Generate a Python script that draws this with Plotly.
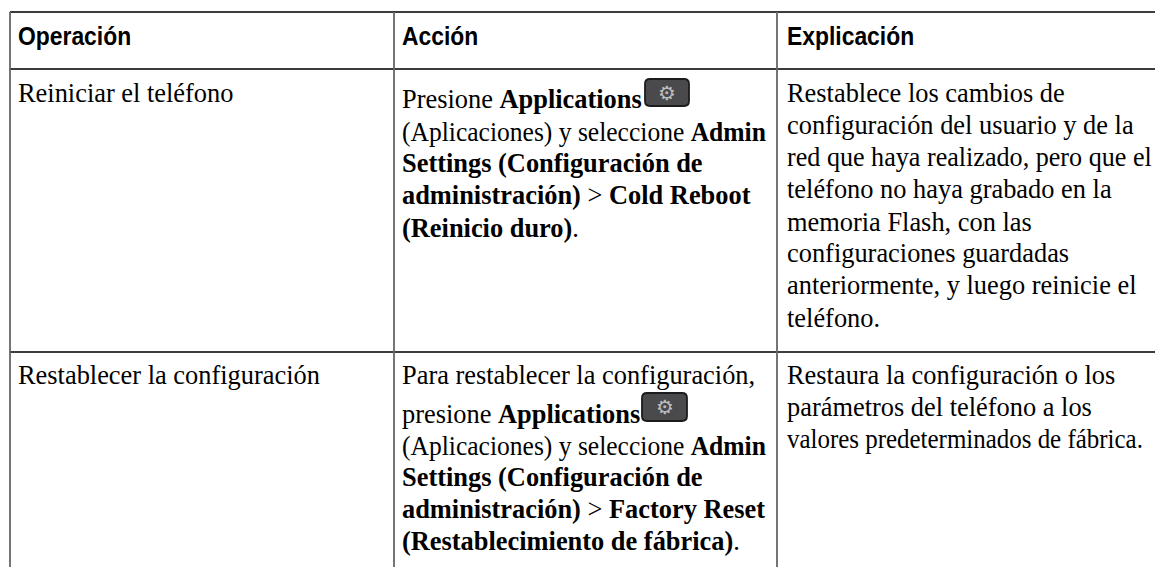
import json
import plotly.graph_objects as go

headers = ["Operación", "Acción", "Explicación"]
row1_op = ["Reiniciar el teléfono"]
row1_action = ["Presione <b>Applications</b>",
               "(Aplicaciones) y seleccione <b>Admin</b>",
               "<b>Settings (Configuración de</b>",
               "<b>administración)</b> > <b>Cold Reboot</b>",
               "<b>(Reinicio duro)</b>."]
row1_expl = ["Restablece los cambios de",
             "configuración del usuario y de la",
             "red que haya realizado, pero que el",
             "teléfono no haya grabado en la",
             "memoria Flash, con las",
             "configuraciones guardadas",
             "anteriormente, y luego reinicie el",
             "teléfono."]
row2_op = ["Restablecer la configuración"]
row2_action = ["Para restablecer la configuración,",
               "presione <b>Applications</b>",
               "(Aplicaciones) y seleccione <b>Admin</b>",
               "<b>Settings (Configuración de</b>",
               "<b>administración)</b> > <b>Factory Reset</b>",
               "<b>(Restablecimiento de fábrica)</b>."]
row2_expl = ["Restaura la configuración o los",
             "parámetros del teléfono a los",
             "valores predeterminados de fábrica."]

col_x = [18, 402, 787]
rule_v = [10, 394, 777]
rule_h = [12, 69, 352]
SERIF = "Liberation Serif"
SANS = "Liberation Sans"
BODY = 26.4

fig = go.Figure()
anns = []
def block(lines, x, ys):
    for t, y in zip(lines, ys):
        anns.append(dict(x=x, y=y, text=t, showarrow=False, xanchor="left", yanchor="middle", borderpad=0, borderwidth=0,
                         font=dict(family=SERIF, size=BODY, color="#000"), align="left"))

for h, x in zip(headers, col_x):
    anns.append(dict(x=x, y=35.5, text=f"<b>{h}</b>", showarrow=False, xanchor="left", yanchor="middle", borderpad=0, borderwidth=0,
                     font=dict(family=SANS, size=26, color="#000")))
block(row1_op, col_x[0], [93])
block(row1_action, col_x[1], [99, 131.5, 163, 195, 227.5])
block(row1_expl, col_x[2], [93, 125, 157, 188.5, 221.5, 253, 285, 317.5])
block(row2_op, col_x[0], [375])
block(row2_action, col_x[1], [375, 414, 446, 477, 509, 541])
block(row2_expl, col_x[2], [374.5, 407, 438.5])

shapes = []
for y in rule_h:
    shapes.append(dict(type="line", x0=10, x1=1155, y0=y, y1=y, line=dict(color="#3c3c3c", width=1.8)))
for x in rule_v:
    shapes.append(dict(type="line", x0=x, x1=x, y0=12, y1=567, line=dict(color="#666", width=1.8)))
for x0, x1, y0, y1 in [(645, 689, 79, 106), (642, 687, 393, 421)]:
    r = 5
    path = (f"M{x0+r},{y0} L{x1-r},{y0} Q{x1},{y0} {x1},{y0+r} L{x1},{y1-r} Q{x1},{y1} {x1-r},{y1} "
            f"L{x0+r},{y1} Q{x0},{y1} {x0},{y1-r} L{x0},{y0+r} Q{x0},{y0} {x0+r},{y0} Z")
    shapes.append(dict(type="path", path=path, fillcolor="#4a4a4c", line=dict(color="#1c1c1c", width=1.8)))
    anns.append(dict(x=(x0+x1)/2, y=(y0+y1)/2, text="⚙", showarrow=False, xanchor="center", yanchor="middle",
                     font=dict(family="DejaVu Sans", size=20, color="#bdbdbd")))

fig.add_trace(go.Scatter(x=[0, 1155], y=[0, 567], mode="markers", marker=dict(opacity=0), hoverinfo="skip", showlegend=False))
fig.update_layout(width=1155, height=567, margin=dict(l=0, r=0, t=0, b=0), plot_bgcolor="#fff", paper_bgcolor="#fff",
                  annotations=anns, shapes=shapes,
                  xaxis=dict(range=[0, 1155], visible=False, fixedrange=True),
                  yaxis=dict(range=[567, 0], visible=False, fixedrange=True))
squeeze = {"Operación": 0.88, "Acción": 0.88, "Explicación": 0.88,
           "(Aplicaciones) y seleccione Admin": 0.968,
           "red que haya realizado, pero que el": 0.99,
           "valores predeterminados de fábrica.": 0.945}
post = """
document.body.style.margin='0';
var squeeze=%s;
document.querySelectorAll('text.annotation-text').forEach(function(t){
  var s=squeeze[t.textContent];
  if(s){t.style.transformBox='fill-box';t.style.transformOrigin='0 50%%';t.style.transform='scaleX('+s+')';}
});
""" % json.dumps(squeeze, ensure_ascii=False)
fig.write_html("out.html", config=dict(displayModeBar=False), post_script=post)
